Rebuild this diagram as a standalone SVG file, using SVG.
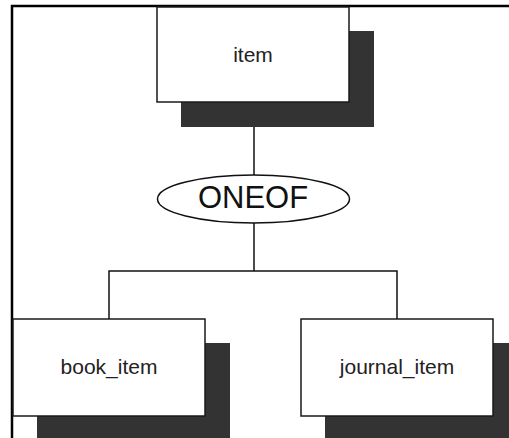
<svg xmlns="http://www.w3.org/2000/svg" width="509" height="438" viewBox="0 0 509 438">
  <style>
    .box { fill: #ffffff; stroke: #1a1a1a; stroke-width: 1.5; }
    .shadow { fill: #333333; }
    .lbl { font-family: "Liberation Sans", Arial, sans-serif; font-size: 21px; fill: #222222; text-anchor: middle; }
    .conn { stroke: #111111; stroke-width: 1.5; fill: none; }
  </style>
  <rect x="0" y="0" width="509" height="438" fill="#ffffff"/>
  <!-- outer frame -->
  <path d="M12 440 V6 H511" fill="none" stroke="#000000" stroke-width="2.5"/>

  <g id="connectors">
    <line class="conn" x1="254" y1="127" x2="254" y2="175"/>
    <line class="conn" x1="254" y1="223" x2="254" y2="271"/>
    <polyline class="conn" points="109,319 109,271 397,271 397,319"/>
  </g>

  <g id="item">
    <rect class="shadow" x="181" y="31" width="193" height="96"/>
    <rect class="box" x="157" y="7" width="192" height="95"/>
    <text class="lbl" x="253" y="62">item</text>
  </g>

  <g id="oneof">
    <ellipse cx="253.5" cy="199" rx="96" ry="24" fill="#ffffff" stroke="#111111" stroke-width="1.5"/>
    <text x="253" y="208" font-family="Liberation Sans, Arial, sans-serif" font-size="31" fill="#111111" text-anchor="middle">ONEOF</text>
  </g>

  <g id="book_item">
    <rect class="shadow" x="37" y="343" width="193" height="100"/>
    <rect class="box" x="13" y="319" width="192" height="97"/>
    <text class="lbl" x="109" y="374">book_item</text>
  </g>

  <g id="journal_item">
    <rect class="shadow" x="325" y="343" width="193" height="100"/>
    <rect class="box" x="301" y="319" width="192" height="97"/>
    <text class="lbl" x="397" y="374">journal_item</text>
  </g>
</svg>
